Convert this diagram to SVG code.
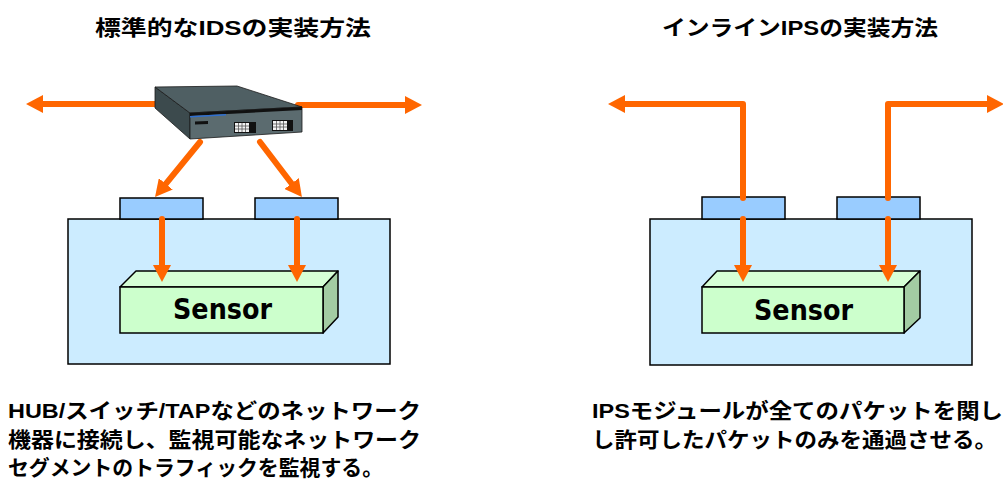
<svg xmlns="http://www.w3.org/2000/svg" width="1003" height="481" viewBox="0 0 1003 481">
  <style>
    .title { font-family: "Liberation Sans", "Noto Sans CJK JP", sans-serif; font-weight: bold; font-size: 21px; fill: #000; }
    .note { font-family: "Liberation Sans", "Noto Sans CJK JP", sans-serif; font-weight: bold; font-size: 21px; fill: #000; }
    .sensor-label { font-family: "DejaVu Sans", sans-serif; font-weight: bold; font-size: 28px; fill: #000; }
    .host { fill: #CCECFF; stroke: #000; stroke-width: 1.5; }
    .port { fill: #99CCFF; stroke: #000; stroke-width: 1.5; }
    .s-front { fill: #CCFFCC; stroke: #000; stroke-width: 1.5; }
    .s-top { fill: #D6FFD6; stroke: #000; stroke-width: 1.5; stroke-linejoin: round; }
    .s-side { fill: #A3CCA3; stroke: #000; stroke-width: 1.5; stroke-linejoin: round; }
    .flow { fill: none; stroke: #FF6600; stroke-width: 6; stroke-linecap: round; stroke-linejoin: round; marker-end: url(#head); }
  </style>
  <defs>
    <marker id="head" markerUnits="userSpaceOnUse" markerWidth="18" markerHeight="18" refX="0" refY="9" orient="auto">
      <path d="M0,0 L17,9 L0,18 Z" fill="#FF6600"/>
    </marker>
  </defs>

  <rect width="1003" height="481" fill="#fff"/>

  <!-- headings -->
  <text class="title" x="95" y="35" textLength="276" lengthAdjust="spacingAndGlyphs">標準的なIDSの実装方法</text>
  <text class="title" x="662" y="35" textLength="276" lengthAdjust="spacingAndGlyphs">インラインIPSの実装方法</text>

  <!-- left: passive IDS -->
  <g id="ids-host">
    <rect class="host" x="68" y="219" width="322" height="145"/>
  </g>
  <g id="ids-port-1">
    <rect class="port" x="120" y="198" width="83" height="21"/>
  </g>
  <g id="ids-port-2">
    <rect class="port" x="255" y="198" width="83" height="21"/>
  </g>
  <g id="ids-sensor">
    <polygon class="s-top" points="120,287 136,271 338,271 323,287"/>
    <polygon class="s-side" points="323,287 338,271 338,317 323,333"/>
    <rect class="s-front" x="120" y="287" width="203" height="46"/>
    <text class="sensor-label" x="173" y="319" textLength="99" lengthAdjust="spacingAndGlyphs">Sensor</text>
  </g>

  <!-- right: inline IPS -->
  <g id="ips-host">
    <rect class="host" x="650" y="219" width="322" height="146"/>
  </g>
  <g id="ips-port-1">
    <rect class="port" x="702" y="197" width="83" height="22"/>
  </g>
  <g id="ips-port-2">
    <rect class="port" x="837" y="197" width="83" height="22"/>
  </g>
  <g id="ips-sensor">
    <polygon class="s-top" points="702,287 717,271 920,271 904,287"/>
    <polygon class="s-side" points="904,287 920,271 920,318 904,333"/>
    <rect class="s-front" x="702" y="287" width="202" height="46"/>
    <text class="sensor-label" x="754" y="320" textLength="99" lengthAdjust="spacingAndGlyphs">Sensor</text>
  </g>

  <!-- traffic flows -->
  <g id="connectors">
    <line class="flow" x1="160" y1="104" x2="43" y2="104"/>
    <line class="flow" x1="298" y1="105" x2="405" y2="105"/>
    <line class="flow" x1="200" y1="142" x2="165.8" y2="183.9"/>
    <line class="flow" x1="260" y1="142" x2="291.6" y2="183.5"/>
    <line class="flow" x1="162" y1="219" x2="162" y2="265"/>
    <line class="flow" x1="297" y1="219" x2="297" y2="265"/>

    <polyline class="flow" points="743,198 743,104 625,104"/>
    <polyline class="flow" points="888,198 888,104 987,104"/>
    <line class="flow" x1="743" y1="219" x2="743" y2="265"/>
    <line class="flow" x1="888" y1="219" x2="888" y2="265"/>
  </g>

  <!-- network appliance -->
  <g id="appliance">
    <polygon points="155,87 190,113 190,139 155,108" fill="#3c4a4d" stroke="#1a1a1a" stroke-width="0.8"/>
    <polygon points="155,87 237,86 302,107 190,113" fill="#4f5f63" stroke="#1a1a1a" stroke-width="0.8"/>
    <polygon points="190,113 302,107 302,132 190,139" fill="#5b6b6f" stroke="#1a1a1a" stroke-width="0.8"/>
    <polygon points="190,113 302,107 302,110 190,116" fill="#111"/>
    <polygon points="190,116 226,114 226,115.6 190,117.6" fill="#2f6fd0"/>
    <polygon points="195,121.5 208,121 208,124 195,124.5" fill="#111"/>
    <rect x="234" y="122" width="22" height="11" fill="#111"/>
    <rect x="235" y="123" width="14" height="9" fill="#f2f2f2"/>
    <path d="M235,126 H249 M235,129 H249 M238.5,123 V132 M242,123 V132 M245.5,123 V132" stroke="#555" stroke-width="0.8"/>
    <rect x="272" y="120" width="21" height="11" fill="#111"/>
    <rect x="273" y="121" width="14" height="9" fill="#f2f2f2"/>
    <path d="M273,124 H287 M273,127 H287 M276.5,121 V130 M280,121 V130 M283.5,121 V130" stroke="#555" stroke-width="0.8"/>
  </g>

  <!-- captions -->
  <text class="note" x="8" y="418" textLength="413" lengthAdjust="spacingAndGlyphs">HUB/スイッチ/TAPなどのネットワーク</text>
  <text class="note" x="8" y="447" textLength="413" lengthAdjust="spacingAndGlyphs">機器に接続し、監視可能なネットワーク</text>
  <text class="note" x="8" y="475" textLength="375" lengthAdjust="spacingAndGlyphs">セグメントのトラフィックを監視する。</text>
  <text class="note" x="592" y="418" textLength="411" lengthAdjust="spacingAndGlyphs">IPSモジュールが全てのパケットを関し</text>
  <text class="note" x="592" y="447" textLength="405" lengthAdjust="spacingAndGlyphs">し許可したパケットのみを通過させる。</text>
</svg>
